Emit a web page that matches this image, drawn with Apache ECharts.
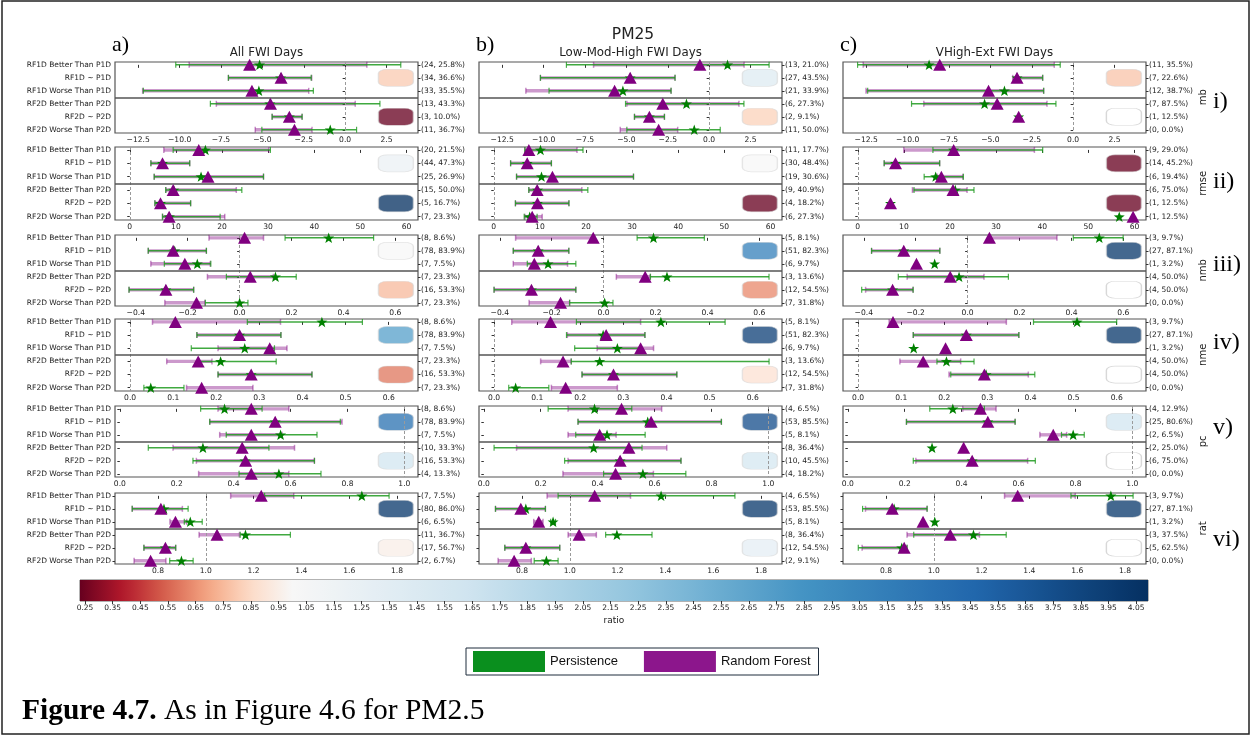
<!DOCTYPE html>
<html><head><meta charset="utf-8">
<script src="https://cdn.jsdelivr.net/npm/echarts@6/dist/echarts.min.js"></script>
<style>html,body{margin:0;padding:0;background:#fff;}#c{width:1252px;height:736px;}</style>
</head><body><div id="c"></div>
<script>
// ---------------- DATA ----------------
const rowLabels = ['RF1D Better Than P1D','RF1D ~ P1D','RF1D Worse Than P1D','RF2D Better Than P2D','RF2D ~ P2D','RF2D Worse Than P2D'];
const metricNames = ['mb','rmse','nmb','nme','pc','rat'];
const romanLabels = ['i)','ii)','iii)','iv)','v)','vi)'];
const columnTitles = ['All FWI Days','Low-Mod-High FWI Days','VHigh-Ext FWI Days'];
const columnLetters = ['a)','b)','c)'];
const superTitle = 'PM25';
const legendNames = ['Persistence','Random Forest'];

// each row: [RF mean, RF low, RF high, Persistence mean, Persistence low, Persistence high]
const all_mb = [[-5.77,-9.42,1.31,-5.17,-10.23,3.36],[-3.87,-7.05,-2.02,-3.9,-7.05,-2.05],[-5.63,-12.23,-2.2,-5.21,-12.19,-1.92],[-4.51,-7.78,0.61,-4.55,-8.14,2.1],[-3.37,-4.41,-2.6,-3.37,-4.41,-2.6],[-3.06,-5.43,-2.0,-0.9,-5.03,0.69]];
const all_rmse = [[14.96,7.39,30.16,16.4,9.41,30.5],[7.1,4.58,13.0,7.1,4.58,13.0],[16.97,5.3,29.0,15.46,5.3,29.0],[9.41,7.82,23.1,9.55,7.8,24.3],[6.67,5.45,13.2,6.67,5.45,13.2],[8.54,7.1,20.6,8.6,7.1,19.6]];
const all_nmb = [[0.019,-0.118,0.092,0.343,0.175,0.516],[-0.256,-0.352,-0.128,-0.25,-0.352,-0.128],[-0.211,-0.342,-0.113,-0.163,-0.29,-0.111],[0.041,-0.124,0.13,0.138,-0.051,0.218],[-0.284,-0.426,-0.177,-0.284,-0.426,-0.177],[-0.166,-0.288,-0.134,0.0,-0.132,0.032]];
const all_nme = [[0.105,0.052,0.349,0.445,0.272,0.539],[0.254,0.155,0.35,0.254,0.155,0.35],[0.324,0.204,0.364,0.266,0.142,0.335],[0.158,0.085,0.19,0.21,0.16,0.339],[0.281,0.204,0.422,0.281,0.204,0.422],[0.166,0.131,0.285,0.048,0.032,0.125]];
const all_pc = [[0.462,0.345,0.594,0.368,0.284,0.5],[0.546,0.316,0.781,0.546,0.316,0.775],[0.462,0.351,0.57,0.565,0.374,0.693],[0.43,0.187,0.614,0.292,0.1,0.524],[0.442,0.269,0.684,0.44,0.257,0.684],[0.462,0.277,0.594,0.559,0.419,0.707]];
const all_rat = [[1.232,1.104,1.368,1.653,1.246,1.767],[0.812,0.692,0.902,0.825,0.692,0.926],[0.873,0.85,0.92,0.935,0.91,0.985],[1.047,0.972,1.141,1.166,1.144,1.354],[0.831,0.741,0.874,0.831,0.741,0.874],[0.769,0.7,0.833,0.898,0.849,0.947]];

const lmh_mb = [[-0.56,-6.98,2.11,1.11,-8.62,3.62],[-4.77,-10.19,-2.06,-4.77,-10.19,-2.06],[-5.71,-11.07,-2.3,-5.21,-9.67,-2.3],[-2.8,-4.97,1.8,-1.37,-5.05,2.1],[-3.61,-4.51,-2.7,-3.61,-4.51,-2.7],[-3.05,-5.37,-1.9,-0.9,-4.97,0.67]];
const lmh_rmse = [[7.61,6.74,18.05,10.13,6.74,19.35],[7.25,3.65,12.5,7.25,3.65,12.5],[12.72,4.94,30.3,10.35,4.94,30.3],[9.41,7.6,19.1,9.5,7.6,20.4],[9.48,4.7,16.3,9.48,4.7,16.3],[8.33,6.74,10.5,7.8,6.6,9.4]];
const lmh_nmb = [[-0.04,-0.339,-0.035,0.192,0.129,0.388],[-0.252,-0.348,-0.134,-0.252,-0.348,-0.134],[-0.267,-0.348,-0.139,-0.214,-0.294,-0.107],[0.16,0.049,0.18,0.244,0.18,0.637],[-0.278,-0.422,-0.107,-0.278,-0.422,-0.107],[-0.166,-0.287,-0.131,0.004,-0.131,0.036]];
const lmh_nme = [[0.131,0.041,0.34,0.387,0.191,0.536],[0.26,0.17,0.35,0.253,0.168,0.35],[0.34,0.239,0.37,0.286,0.187,0.34],[0.16,0.108,0.179,0.245,0.179,0.638],[0.277,0.204,0.424,0.277,0.204,0.424],[0.166,0.133,0.286,0.05,0.034,0.127]];
const lmh_pc = [[0.484,0.296,0.625,0.389,0.226,0.52],[0.588,0.331,0.835,0.576,0.331,0.835],[0.407,0.296,0.465,0.433,0.323,0.567],[0.51,0.115,0.643,0.386,0.036,0.556],[0.479,0.296,0.693,0.479,0.284,0.693],[0.463,0.278,0.596,0.559,0.421,0.71]];
const lmh_rat = [[1.104,0.905,1.254,1.382,0.951,1.691],[0.795,0.689,0.898,0.816,0.689,0.898],[0.87,0.849,0.888,0.93,0.92,0.94],[1.039,0.993,1.111,1.197,1.15,1.344],[0.816,0.728,0.958,0.816,0.728,0.958],[0.767,0.7,0.839,0.902,0.851,0.951]];

const vhe_mb = [[-8.06,-12.68,-1.14,-8.7,-13.02,-0.78],[-3.39,-3.65,-1.84,-3.39,-3.35,-1.84],[-5.11,-12.51,-1.78,-4.15,-12.41,-1.78],[-4.59,-9.02,-1.58,-5.35,-9.76,-1.04],[-3.29,null,null,-3.29,null,null],[null,null,null,null,null,null]];
const vhe_rmse = [[20.79,9.99,38.3,20.8,16.3,40.1],[8.18,5.73,17.76,8.18,5.73,17.76],[18.13,17.26,22.8,16.9,14.4,22.9],[20.65,11.86,23.7,21.15,12.2,25.2],[7.1,null,null,7.1,null,null],[59.7,null,null,56.7,null,null]];
const vhe_nmb = [[0.084,0.084,0.344,0.507,0.407,0.599],[-0.246,-0.37,-0.107,-0.246,-0.37,-0.107],[-0.197,null,null,-0.127,null,null],[-0.067,-0.233,0.063,-0.033,-0.267,0.157],[-0.289,-0.393,-0.21,-0.289,-0.408,-0.21],[null,null,null,null,null,null]];
const vhe_nme = [[0.081,0.072,0.344,0.508,0.407,0.6],[0.251,0.128,0.373,0.251,0.128,0.373],[0.203,null,null,0.129,null,null],[0.151,0.097,0.238,0.205,0.183,0.269],[0.293,0.211,0.395,0.297,0.215,0.41],[null,null,null,null,null,null]];
const vhe_pc = [[0.466,0.404,0.521,0.369,0.288,0.48],[0.492,0.206,0.588,0.492,0.206,0.588],[0.722,0.675,0.769,0.792,0.751,0.831],[0.407,null,null,0.296,null,null],[0.437,0.239,0.632,0.437,0.23,0.659],[null,null,null,null,null,null]];
const vhe_rat = [[1.351,1.296,1.592,1.741,1.574,1.834],[0.826,0.714,0.972,0.834,0.702,0.972],[0.955,null,null,1.004,null,null],[1.069,0.888,1.191,1.166,0.916,1.303],[0.876,0.7,0.888,0.866,0.684,0.888],[null,null,null,null,null,null]];

// right-hand labels (count, share) per metric
const allCounts = [
  ['(24, 25.8%)','(34, 36.6%)','(33, 35.5%)','(13, 43.3%)','(3, 10.0%)','(11, 36.7%)'],
  ['(20, 21.5%)','(44, 47.3%)','(25, 26.9%)','(15, 50.0%)','(5, 16.7%)','(7, 23.3%)'],
  ['(8, 8.6%)','(78, 83.9%)','(7, 7.5%)','(7, 23.3%)','(16, 53.3%)','(7, 23.3%)'],
  ['(8, 8.6%)','(78, 83.9%)','(7, 7.5%)','(7, 23.3%)','(16, 53.3%)','(7, 23.3%)'],
  ['(8, 8.6%)','(78, 83.9%)','(7, 7.5%)','(10, 33.3%)','(16, 53.3%)','(4, 13.3%)'],
  ['(7, 7.5%)','(80, 86.0%)','(6, 6.5%)','(11, 36.7%)','(17, 56.7%)','(2, 6.7%)']];
const lmhCounts = [
  ['(13, 21.0%)','(27, 43.5%)','(21, 33.9%)','(6, 27.3%)','(2, 9.1%)','(11, 50.0%)'],
  ['(11, 17.7%)','(30, 48.4%)','(19, 30.6%)','(9, 40.9%)','(4, 18.2%)','(6, 27.3%)'],
  ['(5, 8.1%)','(51, 82.3%)','(6, 9.7%)','(3, 13.6%)','(12, 54.5%)','(7, 31.8%)'],
  ['(5, 8.1%)','(51, 82.3%)','(6, 9.7%)','(3, 13.6%)','(12, 54.5%)','(7, 31.8%)'],
  ['(4, 6.5%)','(53, 85.5%)','(5, 8.1%)','(8, 36.4%)','(10, 45.5%)','(4, 18.2%)'],
  ['(4, 6.5%)','(53, 85.5%)','(5, 8.1%)','(8, 36.4%)','(12, 54.5%)','(2, 9.1%)']];
const vheCounts = [
  ['(11, 35.5%)','(7, 22.6%)','(12, 38.7%)','(7, 87.5%)','(1, 12.5%)','(0, 0.0%)'],
  ['(9, 29.0%)','(14, 45.2%)','(6, 19.4%)','(6, 75.0%)','(1, 12.5%)','(1, 12.5%)'],
  ['(3, 9.7%)','(27, 87.1%)','(1, 3.2%)','(4, 50.0%)','(4, 50.0%)','(0, 0.0%)'],
  ['(3, 9.7%)','(27, 87.1%)','(1, 3.2%)','(4, 50.0%)','(4, 50.0%)','(0, 0.0%)'],
  ['(4, 12.9%)','(25, 80.6%)','(2, 6.5%)','(2, 25.0%)','(6, 75.0%)','(0, 0.0%)'],
  ['(3, 9.7%)','(27, 87.1%)','(1, 3.2%)','(3, 37.5%)','(5, 62.5%)','(0, 0.0%)']];

// ratio shown by the coloured boxes: [RF1D group, RF2D group] per metric (null = no value)
const allRatio = [[0.8,0.2],[1.2,4.1],[1.0,0.75],[2.7,0.59],[3.3,1.6],[4.0,0.95]];
const lmhRatio = [[1.4,0.82],[1.0,0.2],[3.1,0.63],[3.9,0.88],[3.75,1.55],[4.0,1.3]];
const vheRatio = [[0.78,null],[0.2,0.2],[4.0,null],[4.0,null],[1.6,null],[4.0,null]];

// tick labels
const mbTicks = [-12.5,-10,-7.5,-5,-2.5,0,2.5];
const rmseTicks = [0,10,20,30,40,50,60];
const nmbTicks = [-0.4,-0.2,0,0.2,0.4,0.6];
const nmeTicks = [0,0.1,0.2,0.3,0.4,0.5,0.6];
const pcTicks = [0,0.2,0.4,0.6,0.8,1.0];
const ratTicks = [0.8,1.0,1.2,1.4,1.6,1.8];
const colorbarTicks = [0.25,0.35,0.45,0.55,0.65,0.75,0.85,0.95,1.05,1.15,1.25,1.35,1.45,1.55,1.65,1.75,1.85,1.95,2.05,2.15,2.25,2.35,2.45,2.55,2.65,2.75,2.85,2.95,3.05,3.15,3.25,3.35,3.45,3.55,3.65,3.75,3.85,3.95,4.05];

// ---------------- LAYOUT / STYLE ----------------
const FONT = 'DejaVu Sans';
const SERIF = 'Liberation Serif';
const colLeft = [115, 479, 843];
const panelW = 303;
const rowTop = [62, 147, 235, 319, 406, 493];
const rowH = [71, 73, 71, 72, 71, 71];
const fmtSigned = d => v => (v < 0 ? '\u2212' : '') + Math.abs(v).toFixed(d);
const axisSpec = [
  {min:-13.9, max:4.4, ticks:mbTicks, fmt:fmtSigned(1), ref:0},
  {min:-3.2, max:62.5, ticks:rmseTicks, fmt:fmtSigned(0), ref:0},
  {min:-0.48, max:0.687, ticks:nmbTicks, fmt:fmtSigned(1), ref:0},
  {min:-0.035, max:0.668, ticks:nmeTicks, fmt:fmtSigned(1), ref:0},
  {min:-0.017, max:1.048, ticks:pcTicks, fmt:fmtSigned(1), ref:1},
  {min:0.62, max:1.888, ticks:ratTicks, fmt:fmtSigned(1), ref:1}
];
const colData = [[all_mb,all_rmse,all_nmb,all_nme,all_pc,all_rat],[lmh_mb,lmh_rmse,lmh_nmb,lmh_nme,lmh_pc,lmh_rat],[vhe_mb,vhe_rmse,vhe_nmb,vhe_nme,vhe_pc,vhe_rat]];
const colCounts = [allCounts, lmhCounts, vheCounts];
const colRatio = [allRatio, lmhRatio, vheRatio];

// colormap (RdBu, two-slope around 1)
const RDBU = ['#67001f','#b2182b','#d6604d','#f4a582','#fddbc7','#f7f7f7','#d1e5f0','#92c5de','#4393c3','#2166ac','#053061'];
const CB_MIN = 0.232, CB_MAX = 4.093, CB_CENTER = 1;
function hex2rgb(h){ return [1,3,5].map(i => parseInt(h.substr(i,2),16)); }
function cmap(t){ t = Math.max(0, Math.min(1, t)); const x = t*10; const i = Math.min(9, Math.floor(x)); const f = x - i; const a = hex2rgb(RDBU[i]), b = hex2rgb(RDBU[i+1]); return a.map((v,k) => Math.round(v + (b[k]-v)*f)); }
function norm(v){ return v <= CB_CENTER ? 0.5*(v-CB_MIN)/(CB_CENTER-CB_MIN) : 0.5 + 0.5*(v-CB_CENTER)/(CB_MAX-CB_CENTER); }
function ratioColor(v, a){ const c = cmap(norm(v)); return 'rgba(' + c[0] + ',' + c[1] + ',' + c[2] + ',' + a + ')'; }

const STAR = 'path://M0,-10L2.35,-3.24L9.51,-3.09L3.8,1.24L5.88,8.09L0,4L-5.88,8.09L-3.8,1.24L-9.51,-3.09L-2.35,-3.24Z';
const GREEN = '#008000', PURPLE = '#800080';

function errRender(color, lw, op, capLw, capOp){
  return function(params, api){
    const y = api.value(2);
    const a = api.coord([api.value(0), y]);
    const b = api.coord([api.value(1), y]);
    const h = 3;
    return {type:'group', children:[
      {type:'line', shape:{x1:a[0], y1:a[1], x2:b[0], y2:b[1]}, style:{stroke:color, lineWidth:lw, opacity:op}},
      {type:'line', shape:{x1:a[0], y1:a[1]-h, x2:a[0], y2:a[1]+h}, style:{stroke:color, lineWidth:capLw, opacity:capOp}},
      {type:'line', shape:{x1:b[0], y1:b[1]-h, x2:b[0], y2:b[1]+h}, style:{stroke:color, lineWidth:capLw, opacity:capOp}}
    ]};
  };
}

const grids = [], xAxes = [], yAxes = [], series = [];
for (let r = 0; r < 6; r++) {
  for (let c = 0; c < 3; c++) {
    const g = grids.length;
    const s = axisSpec[r];
    grids.push({left:colLeft[c], top:rowTop[r], width:panelW, height:rowH[r], show:true, borderColor:'#555', borderWidth:1.2, backgroundColor:'rgba(0,0,0,0)'});
    xAxes.push({type:'value', gridIndex:g, min:s.min, max:s.max,
      axisLine:{show:false}, splitLine:{show:false},
      axisTick:{show:true, customValues:s.ticks, length:3, lineStyle:{color:'#333', width:1}},
      axisLabel:{customValues:s.ticks, formatter:s.fmt, fontFamily:FONT, fontSize:7.6, color:'#222', margin:3}});
    const counts = colCounts[c][r];
    yAxes.push({type:'value', gridIndex:g, min:-0.22, max:5.25, inverse:true, position:'left',
      axisLine:{show:false}, splitLine:{show:false},
      axisTick:{show:true, customValues:[0,1,2,3,4,5], length:2.5, lineStyle:{color:'#333'}},
      axisLabel:{show:c===0, customValues:[0,1,2,3,4,5], formatter:v => rowLabels[Math.round(v)], fontFamily:FONT, fontSize:7.5, color:'#222', margin:4}});
    yAxes.push({type:'value', gridIndex:g, min:-0.22, max:5.25, inverse:true, position:'right',
      axisLine:{show:false}, splitLine:{show:false},
      axisTick:{show:true, customValues:[0,1,2,3,4,5], length:2.5, lineStyle:{color:'#333'}},
      axisLabel:{show:true, customValues:[0,1,2,3,4,5], formatter:v => counts[Math.round(v)], fontFamily:FONT, fontSize:7.5, color:'#222', margin:3}});
    const yi = 2*g;
    const d = colData[c][r];
    const rfErr = [], pErr = [], rfPts = [], pPts = [];
    d.forEach((row, i) => {
      if (row[0] != null) rfPts.push([row[0], i]);
      if (row[1] != null) rfErr.push([row[1], row[2], i]);
      if (row[3] != null) pPts.push([row[3], i]);
      if (row[4] != null) pErr.push([row[4], row[5], i]);
    });
    // coloured ratio boxes
    const xBox = s.min + 0.927*(s.max - s.min);
    const rat = colRatio[c][r];
    const boxData = [[rat[0],1],[rat[1],4]].map(([v,row]) => ({
      value:[xBox,row],
      itemStyle: v == null ? {color:'#ffffff', borderColor:'rgba(200,200,200,0.7)', borderWidth:1, opacity:1}
                           : {color:ratioColor(v,0.76), borderColor:'rgba(215,215,215,0.6)', borderWidth:1, opacity:1}
    }));
    series.push({type:'scatter', xAxisIndex:g, yAxisIndex:yi, z:1, silent:true, symbol:'roundRect', symbolSize:[35,17], data:boxData});
    // reference line + group separator
    series.push({type:'scatter', xAxisIndex:g, yAxisIndex:yi, z:2, silent:true, data:[],
      markLine:{silent:true, symbol:'none', animation:false, label:{show:false},
        data:[
          {xAxis:s.ref, lineStyle:{color:'#9a9a9a', width:1, type:[3,2]}},
          {yAxis:2.5, lineStyle:{color:'#555', width:1.5, type:'solid'}}
        ]}});
    series.push({type:'custom', name:'Random Forest', xAxisIndex:g, yAxisIndex:yi, z:3, silent:true,
      renderItem:errRender(PURPLE, 3.4, 0.4, 1.5, 0.45), encode:{x:[0,1], y:2}, data:rfErr});
    series.push({type:'custom', name:'Persistence', xAxisIndex:g, yAxisIndex:yi, z:4, silent:true,
      renderItem:errRender('#1f9a1f', 1.5, 0.85, 1.2, 0.8), encode:{x:[0,1], y:2}, data:pErr});
    series.push({type:'scatter', name:'Persistence', xAxisIndex:g, yAxisIndex:yi, z:5, silent:true,
      symbol:STAR, symbolKeepAspect:true, symbolSize:11, itemStyle:{color:GREEN, opacity:1}, data:pPts});
    series.push({type:'scatter', name:'Random Forest', xAxisIndex:g, yAxisIndex:yi, z:6, silent:true,
      symbol:'triangle', symbolSize:[13,12], itemStyle:{color:PURPLE, opacity:1}, data:rfPts});
  }
}

// colour bar
const cbG = grids.length;
grids.push({left:80, top:580, width:1068, height:21, show:true, borderColor:'#666', borderWidth:1, backgroundColor:'rgba(0,0,0,0)'});
xAxes.push({type:'value', gridIndex:cbG, min:CB_MIN, max:CB_MAX, name:'ratio', nameLocation:'middle', nameGap:15,
  nameTextStyle:{fontFamily:FONT, fontSize:9, color:'#222'},
  axisLine:{show:false}, splitLine:{show:false},
  axisTick:{show:true, customValues:colorbarTicks, length:3, lineStyle:{color:'#333'}},
  axisLabel:{customValues:colorbarTicks, formatter:v => v.toFixed(2), fontFamily:FONT, fontSize:7.5, color:'#222', margin:3}});
yAxes.push({type:'value', gridIndex:cbG, min:0, max:1, show:false});
const stops = [];
for (let k = 0; k <= 80; k++) {
  const v = CB_MIN + (CB_MAX - CB_MIN)*k/80;
  stops.push({offset:k/80, color:ratioColor(v,1)});
}
stops.push({offset:(CB_CENTER-CB_MIN)/(CB_MAX-CB_MIN), color:ratioColor(CB_CENTER,1)});
stops.sort((a,b) => a.offset - b.offset);
series.push({type:'custom', xAxisIndex:xAxes.length-1, yAxisIndex:yAxes.length-1, silent:true, z:1,
  data:[[CB_MIN, CB_MAX]], encode:{x:[0,1]},
  renderItem:function(params, api){
    const p0 = api.coord([api.value(0), 1]);
    const p1 = api.coord([api.value(1), 0]);
    return {type:'rect', shape:{x:p0[0], y:p0[1], width:p1[0]-p0[0], height:p1[1]-p0[1]},
      style:{fill:{type:'linear', x:0, y:0, x2:1, y2:0, colorStops:stops}}};
  }});

// annotation texts
const graphics = [];
graphics.push({type:'rect', shape:{x:2, y:1, width:1247, height:733}, style:{fill:'none', stroke:'#222', lineWidth:1.5}, z:100});
for (let c = 0; c < 3; c++) {
  graphics.push({type:'text', x:colLeft[c]-3, y:45, style:{text:columnLetters[c], font:'22px "' + SERIF + '"', fill:'#000', textVerticalAlign:'middle'}});
  graphics.push({type:'text', x:colLeft[c]+panelW/2, y:53, style:{text:columnTitles[c], font:'11.8px "' + FONT + '"', fill:'#222', textAlign:'center', textVerticalAlign:'middle'}});
}
graphics.push({type:'text', x:633, y:35, style:{text:superTitle, font:'15.5px "' + FONT + '"', fill:'#222', textAlign:'center', textVerticalAlign:'middle'}});
const romanY = [102, 182, 265, 343, 428, 540];
for (let r = 0; r < 6; r++) {
  const mid = rowTop[r] + rowH[r]*(2.72/5.47);
  graphics.push({type:'text', x:1203, y:mid, rotation:Math.PI/2, style:{text:metricNames[r], font:'10px "' + FONT + '"', fill:'#222', textAlign:'center', textVerticalAlign:'middle'}});
  graphics.push({type:'text', x:1213, y:romanY[r], style:{text:romanLabels[r], font:'24px "' + SERIF + '"', fill:'#000', textVerticalAlign:'middle'}});
}
graphics.push({type:'text', x:22, y:711, style:{text:'{b|Figure 4.7.} As in Figure 4.6 for PM2.5', font:'29.5px "' + SERIF + '"', fill:'#000', textVerticalAlign:'middle',
  rich:{b:{fontWeight:'bold', fontFamily:SERIF, fontSize:29.5, fill:'#000'}}}});

const chart = echarts.init(document.getElementById('c'), null, {renderer:'canvas'});
chart.setOption({
  animation:false,
  backgroundColor:'#ffffff',
  grid:grids, xAxis:xAxes, yAxis:yAxes, series:series,
  legend:{left:466, top:648, orient:'horizontal', selectedMode:false, itemWidth:72, itemHeight:21, itemGap:26,
    padding:[3,8,3,7], borderColor:'#1f2d3d', borderWidth:1, borderRadius:0,
    textStyle:{fontFamily:'Liberation Sans', fontSize:13, color:'#111'},
    data:[{name:legendNames[0], icon:'rect', itemStyle:{color:'#0a8f1e', borderWidth:0, opacity:1}},
          {name:legendNames[1], icon:'rect', itemStyle:{color:'#8c168c', borderWidth:0, opacity:1}}]},
  graphic:graphics
});
</script>
</body></html>
